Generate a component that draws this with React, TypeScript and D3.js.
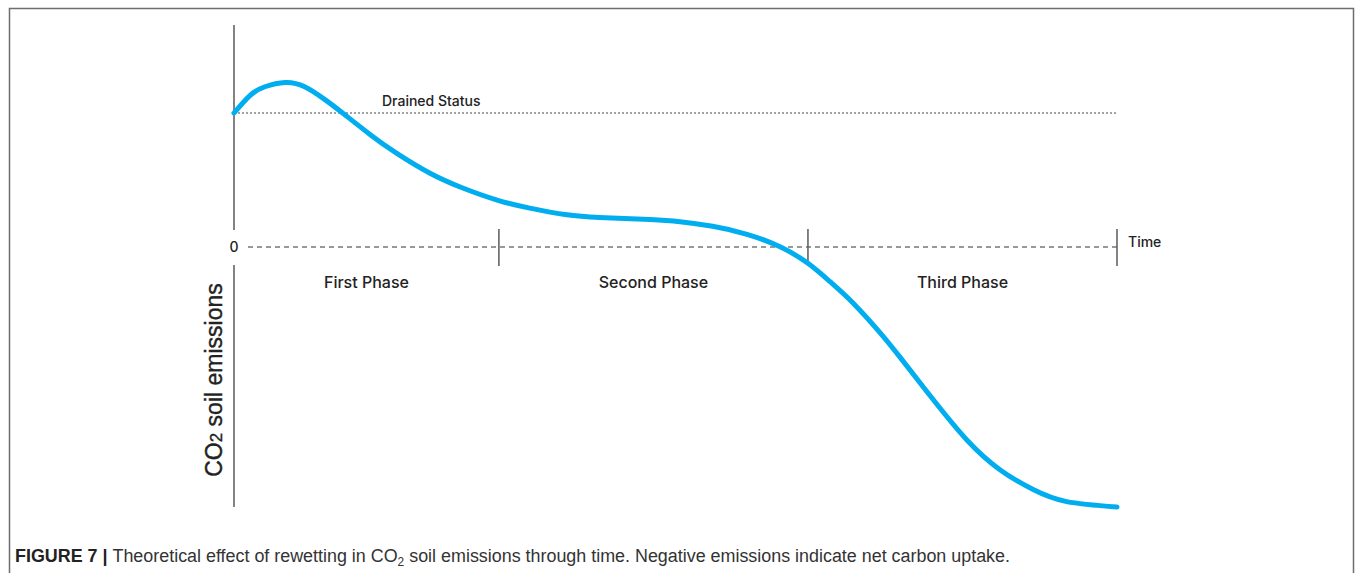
import React from "react";
import * as d3 from "d3";

const timePoints = [0, 1.8, 3.5, 5.8, 8.0, 10.3, 12.3, 15.4, 18.4, 22.2, 25.9, 29.8, 33.5, 37.7, 41.4, 47.1, 50.5, 54.2, 58.1, 61.9, 65.0, 67.5, 70.1, 73.2, 75.4, 79.2, 83.0, 86.7, 90.5, 94.3, 100];
const emissions = [1.0, 1.13, 1.196, 1.228, 1.196, 1.10, 1.0, 0.84, 0.70, 0.55, 0.44, 0.35, 0.29, 0.24, 0.22, 0.205, 0.189, 0.155, 0.095, 0.0, -0.122, -0.259, -0.418, -0.642, -0.82, -1.14, -1.44, -1.66, -1.81, -1.90, -1.94];
const phaseBounds = [0, 30, 65, 100];
const phaseLabels = ["First Phase", "Second Phase", "Third Phase"];
const drainedLevel = 1.0;
const yAxisTop = 1.657;
const yAxisBottom = -1.94;

export default function App() {
  const W = 1355, H = 573;
  const x = d3.scaleLinear().domain([0, 100]).range([234, 1117]);
  const y = d3.scaleLinear().domain([0, 1]).range([247, 113]);
  const data = timePoints.map((t, i) => [t, emissions[i]] as [number, number]);
  const line = d3.line<[number, number]>().x(d => x(d[0])).y(d => y(d[1])).curve(d3.curveNatural);
  const chartFont = "Inter, 'Open Sans', sans-serif";
  const axisColor = "#5a5a5a";
  return (
    <svg width={W} height={H} style={{ position: "absolute", left: 0, top: 0, background: "#fff" }}>
      {/* frame */}
      <path d={`M9.5,${H} V8.5 H1353.5 V${H}`} fill="none" stroke="#6e6e6e" strokeWidth={1.5} />
      {/* vertical axis */}
      <line x1={x(0)} x2={x(0)} y1={y(yAxisTop)} y2={y(0) - 17} stroke={axisColor} strokeWidth={1.5} />
      <line x1={x(0)} x2={x(0)} y1={y(0) + 18} y2={y(yAxisBottom)} stroke={axisColor} strokeWidth={1.5} />
      {/* zero line */}
      <line x1={x(0) + 14} x2={x(100)} y1={y(0)} y2={y(0)} stroke="#333" strokeWidth={1} strokeDasharray="5,4" />
      <text x={x(0)} y={y(0) + 5} textAnchor="middle" fontFamily={chartFont} fontSize={14} fontWeight={500} fill="#222">0</text>
      {/* phase ticks */}
      {phaseBounds.slice(1).map((b, i) => (
        <line key={i} x1={x(b)} x2={x(b)} y1={y(0) - 18} y2={y(0) + 19} stroke={axisColor} strokeWidth={1.5} />
      ))}
      {phaseLabels.map((lbl, i) => (
        <text key={lbl} x={(x(phaseBounds[i]) + x(phaseBounds[i + 1])) / 2} y={288} textAnchor="middle" fontFamily={chartFont} fontSize={16} fontWeight={500} fill="#222">{lbl}</text>
      ))}
      <text x={1128} y={247} fontFamily={chartFont} fontSize={14} fontWeight={500} fill="#222">Time</text>
      {/* drained status */}
      <line x1={x(0)} x2={x(100)} y1={y(drainedLevel)} y2={y(drainedLevel)} stroke="#444" strokeWidth={1} strokeDasharray="2,2" />
      <text x={382} y={106} fontFamily={chartFont} fontSize={14} fontWeight={500} fill="#222">Drained Status</text>
      {/* curve */}
      <path d={line(data) || ""} fill="none" stroke="#00AEEF" strokeWidth={5} strokeLinecap="round" />
      {/* y label */}
      <text transform="translate(222,380) rotate(-90)" textAnchor="middle" fontFamily="'Liberation Sans', Arial, sans-serif" fontSize={23} fill="#222" stroke="#222" strokeWidth={0.4}>
        CO<tspan fontSize={17}>2</tspan> soil emissions
      </text>
      {/* caption */}
      <text x={15} y={562} fontFamily="'Liberation Sans', Arial, sans-serif" fontSize={18} fill="#333" textLength={995} lengthAdjust="spacingAndGlyphs">
        <tspan fontWeight="bold" fill="#222">FIGURE 7 | </tspan>
        Theoretical effect of rewetting in CO<tspan fontSize={12} dy={4}>2</tspan><tspan dy={-4}> soil emissions through time. Negative emissions indicate net carbon uptake.</tspan>
      </text>
    </svg>
  );
}
